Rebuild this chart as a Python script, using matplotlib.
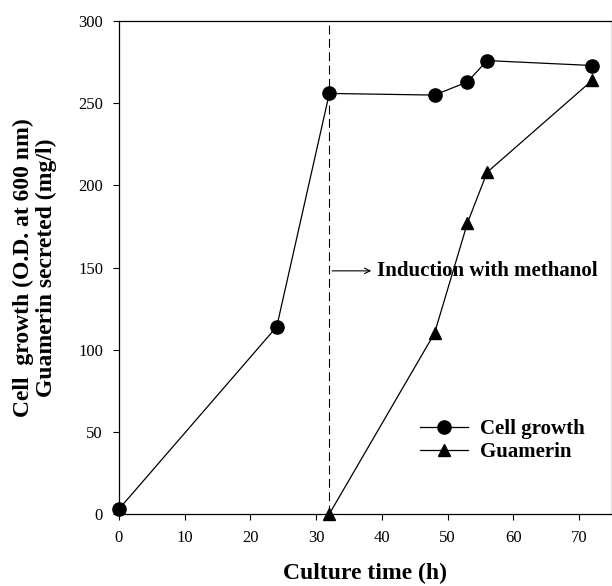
import matplotlib
matplotlib.use("Agg")
import matplotlib.pyplot as plt

plt.rcParams['font.family'] = ['Liberation Serif', 'DejaVu Serif']

# culture time (h) and measurements
time_cell = [0, 24, 32, 48, 53, 56, 72]
cell_growth = [3, 114, 256, 255, 263, 276, 273]
time_guam = [32, 48, 53, 56, 72]
guamerin = [0, 110, 177, 208, 264]
induction_time = 32

fig = plt.figure(figsize=(6.12, 5.86), dpi=100)
ax = fig.add_axes([0.1944, 0.1229, 0.8056, 0.841])

ax.plot(time_cell, cell_growth, 'k-', marker='o', markersize=9.5, linewidth=0.9,
        label='Cell growth', clip_on=False, zorder=3)
ax.plot(time_guam, guamerin, 'k-', marker='^', markersize=8.5, linewidth=0.9,
        label='Guamerin', clip_on=False, zorder=3)

ax.axvline(induction_time, color='k', linestyle=(0, (8, 4)), linewidth=0.8)
ax.annotate('Induction with methanol', xy=(39.3, 148),
            fontsize=15, fontweight='bold', va='center', ha='left')
ax.annotate('', xy=(38.8, 148), xytext=(induction_time, 148),
            arrowprops=dict(arrowstyle='->', color='k', lw=0.8))

ax.set_xlim(0, 75)
ax.set_ylim(0, 300)
ax.set_xticks(range(0, 80, 10))
ax.set_yticks(range(0, 350, 50))
ax.tick_params(direction='out', length=4.5, width=0.8, labelsize=12)
ax.tick_params(axis='x', pad=7)
ax.tick_params(axis='y', pad=7)
for s in ax.spines.values():
    s.set_linewidth(0.9)

ax.set_xlabel('Culture time (h)', fontsize=17, fontweight='bold', labelpad=12)
ax.set_ylabel('Cell  growth (O.D. at 600 nm)\nGuamerin secreted (mg/l)',
              fontsize=17, fontweight='bold', linespacing=1.15, labelpad=15)

ax.legend(loc='upper left', bbox_to_anchor=(0.61, 0.192), frameon=False,
          prop={'weight': 'bold', 'size': 15}, handlelength=2.3,
          labelspacing=0.15, handletextpad=0.6, borderpad=0, borderaxespad=0)

fig.savefig('out.png', dpi=100)
